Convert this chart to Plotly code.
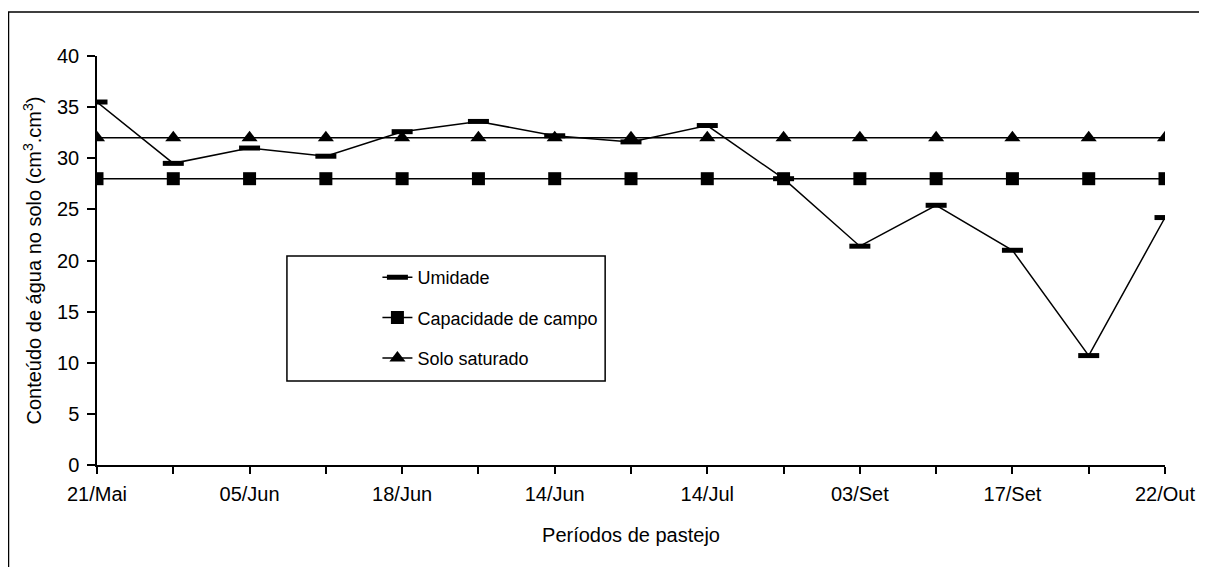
import plotly.graph_objects as go

# Data
periods = ["21/Mai", "", "05/Jun", "", "18/Jun", "", "14/Jun", "", "14/Jul", "", "03/Set", "", "17/Set", "", "22/Out"]
umidade = [35.5, 29.5, 31.0, 30.2, 32.6, 33.6, 32.2, 31.6, 33.2, 28.0, 21.4, 25.4, 21.0, 10.7, 24.2]
capacidade_campo = [28] * 15
solo_saturado = [32] * 15

x_idx = list(range(len(periods)))
label_idx = [i for i, p in enumerate(periods) if p]
label_txt = [periods[i] for i in label_idx]
minor_idx = [i for i, p in enumerate(periods) if not p]

FONT = "Liberation Sans, Arial, sans-serif"
FS = 20
LFS = 18

fig = go.Figure()
fig.add_trace(go.Scatter(
    x=x_idx, y=umidade, name="Umidade", mode="lines+markers",
    line=dict(color="black", width=1.5),
    marker=dict(symbol="line-ew", size=15, color="black", line=dict(color="black", width=5)),
    legendgroup="a",
))
fig.add_trace(go.Scatter(
    x=x_idx, y=capacidade_campo, name="Capacidade de campo", mode="lines+markers",
    line=dict(color="black", width=1.5),
    marker=dict(symbol="square", size=13, color="black"),
    legendgroup="b",
))
fig.add_trace(go.Scatter(
    x=x_idx, y=solo_saturado, name="Solo saturado", mode="lines+markers",
    line=dict(color="black", width=1.5),
    marker=dict(symbol="triangle-up", size=14, color="black"),
    legendgroup="c",
))

# page offset of the figure div (HTML body margin)
OFF = 8
W, H = 1207 - OFF, 567 - OFF
L, T, R, B = 97 - OFF, 56 - OFF, 1171 - OFF, 465 - OFF
pw, ph = R - L, B - T

def px(x):
    return (x - OFF - L) / pw

def py(y):
    return (B - (y - OFF)) / ph

fig.update_layout(
    width=W, height=H,
    margin=dict(l=L, r=W - R, t=T, b=H - B, pad=0),
    paper_bgcolor="white", plot_bgcolor="white",
    font=dict(family=FONT, size=FS, color="black"),
    showlegend=True,
    legend=dict(
        x=px(379), y=py(259), xanchor="left", yanchor="top",
        bgcolor="rgba(0,0,0,0)", borderwidth=0,
        font=dict(family=FONT, size=LFS, color="black"),
        tracegroupgap=14, itemwidth=30,
    ),
    xaxis=dict(
        range=[0, 14], tickmode="array", tickvals=label_idx, ticktext=label_txt,
        showline=True, linecolor="black", linewidth=1.5,
        ticks="outside", ticklen=7, tickwidth=1.5, tickcolor="black",
        ticklabelstandoff=3,
        minor=dict(tickmode="array", tickvals=minor_idx, ticks="outside",
                   ticklen=7, tickwidth=1.5, tickcolor="black", showgrid=False),
        showgrid=False, zeroline=False,
        tickfont=dict(family=FONT, size=FS, color="black"),
        title=dict(text="Períodos de pastejo", font=dict(family=FONT, size=FS), standoff=24),
    ),
    yaxis=dict(
        range=[0, 40], tickmode="linear", tick0=0, dtick=5,
        showline=True, linecolor="black", linewidth=1.5,
        ticks="outside", ticklen=8, tickwidth=1.5, tickcolor="black",
        ticklabelstandoff=4,
        showgrid=False, zeroline=False,
        tickfont=dict(family=FONT, size=FS, color="black"),
        title=dict(text="Conteúdo de água no solo (cm<sup>3</sup>.cm<sup>3</sup>)",
                   font=dict(family=FONT, size=FS), standoff=10),
    ),
    shapes=[
        # legend box
        dict(type="rect", xref="paper", yref="paper",
             x0=px(288), x1=px(608), y0=py(381), y1=py(256),
             line=dict(color="black", width=1.5), fillcolor="rgba(0,0,0,0)", layer="above"),
        # outer chart frame (cropped at right and bottom)
        dict(type="rect", xref="paper", yref="paper",
             x0=px(8), x1=px(1225), y0=py(580), y1=py(12),
             line=dict(color="black", width=1.5), fillcolor="rgba(0,0,0,0)", layer="above"),
    ],
)

fig.write_html("out.html")
